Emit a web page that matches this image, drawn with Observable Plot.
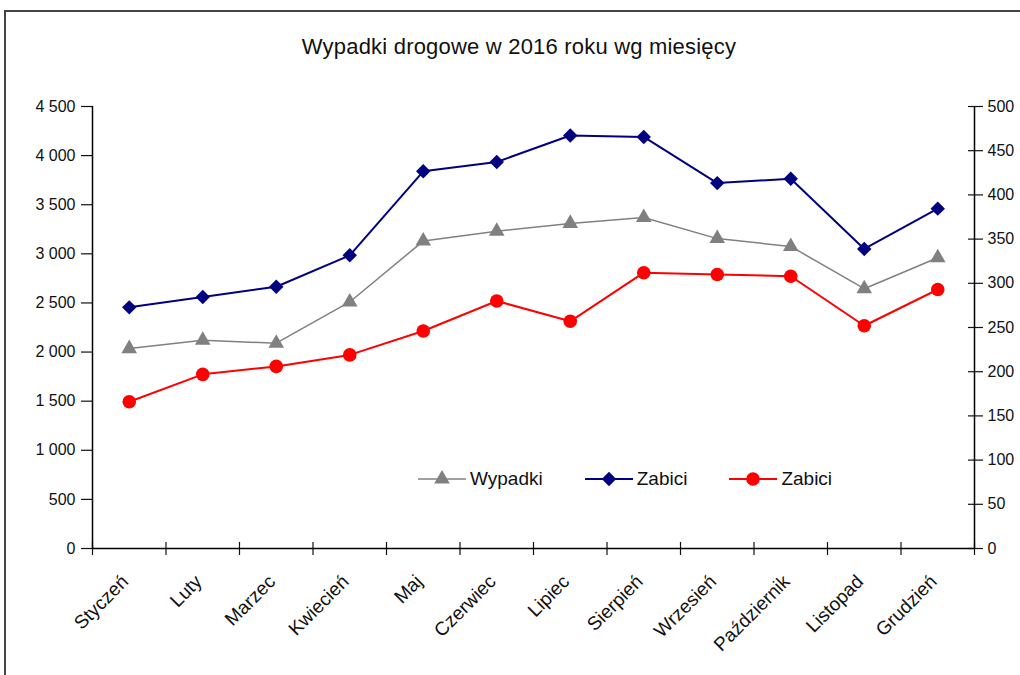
<!DOCTYPE html>
<html><head><meta charset="utf-8">
<script src="https://cdn.jsdelivr.net/npm/d3@7"></script>
<script src="https://cdn.jsdelivr.net/npm/@observablehq/plot@0.6"></script>
<style>
body{margin:0;background:#fff;overflow:hidden}
#wrap{position:relative;width:1020px;height:675px;font-family:"Liberation Sans",Arial,sans-serif;color:#111;overflow:hidden}
#border{position:absolute;left:4px;top:10px;width:1060px;height:720px;border:2px solid #444;box-sizing:border-box}
#title{position:absolute;left:0;width:1038px;top:34px;text-align:center;font-size:22px;letter-spacing:0.2px;line-height:26px}
#chart{position:absolute;left:0;top:0}
#legend{position:absolute;top:468px;left:418px;display:flex;align-items:center;font-size:19px;gap:42px}
.item{display:flex;align-items:center;gap:4px}
</style></head>
<body>
<div id="wrap">
  <div id="border"></div>
  <div id="chart"></div>
  <div id="title">Wypadki drogowe w 2016 roku wg miesięcy</div>
  <div id="legend"></div>
</div>
<script>
const months = ["Styczeń","Luty","Marzec","Kwiecień","Maj","Czerwiec","Lipiec","Sierpień","Wrzesień","Październik","Listopad","Grudzień"];
const wypadki = [2035, 2120, 2090, 2510, 3130, 3230, 3310, 3370, 3155, 3075, 2645, 2960];
const zabiciLeft = [2455, 2560, 2665, 2985, 3840, 3935, 4205, 4190, 3720, 3765, 3050, 3460];
const zabiciRight = [166, 197, 206, 219, 246, 280, 257, 312, 310, 308, 252, 293];
const leftTicks = [0, 500, 1000, 1500, 2000, 2500, 3000, 3500, 4000, 4500];
const rightTicks = [0, 50, 100, 150, 200, 250, 300, 350, 400, 450, 500];
const seriesNames = ["Wypadki", "Zabici", "Zabici"];

const K = 4500 / 500; // right-axis to left-axis factor
const fmt = d => d3.format(",")(d).replace(/,/g, " ");
const idx = months.map((_, i) => i);
const bounds = d3.range(months.length + 1).map(i => i - 0.5);

const series = [
  {name: seriesNames[0], values: wypadki, color: "#808080", symbol: "triangle", r: 5.8, sw: 1.5, k: 1},
  {name: seriesNames[1], values: zabiciLeft, color: "#000080", symbol: "diamond2", r: 6.5, sw: 2, k: 1},
  {name: seriesNames[2], values: zabiciRight, color: "#ff0000", symbol: "circle", r: 6.8, sw: 2, k: K}
];

const chart = Plot.plot({
  width: 1020, height: 675,
  marginLeft: 92, marginRight: 46, marginTop: 106, marginBottom: 127,
  x: {type: "linear", domain: [-0.5, 11.5]},
  y: {domain: [0, 4500]},
  style: {fontFamily: '"Liberation Sans", Arial, sans-serif', fontSize: "16px", color: "#111", background: "transparent"},
  marks: [
    Plot.axisY(leftTicks, {anchor: "left", tickSize: 11, tickPadding: 6, tickFormat: fmt, label: null, fontSize: 16, strokeWidth: 1.2}),
    Plot.axisY(rightTicks.map(v => v * K), {anchor: "right", tickSize: 15, dx: -7, tickPadding: 5, tickFormat: d => fmt(d / K), label: null, fontSize: 16, strokeWidth: 1.2}),
    Plot.axisX(bounds, {tickSize: 13, dy: -6, tickFormat: () => "", label: null, strokeWidth: 1.2}),
    Plot.axisX(idx, {tickSize: 0, tickRotate: -45, tickPadding: 30, dx: -4, tickFormat: i => months[i], label: null, fontSize: 19}),
    Plot.ruleY([0], {stroke: "#000", strokeWidth: 1.5}),
    Plot.ruleX([-0.5, 11.5], {stroke: "#000", strokeWidth: 1.5}),
    ...series.flatMap(s => [
      Plot.line(s.values, {x: (d, i) => i, y: d => d * s.k, stroke: s.color, strokeWidth: s.sw}),
      Plot.dot(s.values, {x: (d, i) => i, y: d => d * s.k, symbol: s.symbol, fill: s.color, stroke: "none", r: s.r})
    ])
  ]
});
document.getElementById("chart").appendChild(chart);

// legend
const legend = d3.select("#legend");
const symMap = {triangle: d3.symbolTriangle, diamond2: d3.symbolDiamond2, circle: d3.symbolCircle};
series.forEach(s => {
  const it = legend.append("div").attr("class", "item");
  const svg = it.append("svg").attr("width", 48).attr("height", 20);
  svg.append("line").attr("x1", 0).attr("x2", 48).attr("y1", 10).attr("y2", 10).attr("stroke", s.color).attr("stroke-width", s.sw);
  svg.append("path").attr("transform", "translate(24,10)")
    .attr("d", d3.symbol(symMap[s.symbol], Math.PI * s.r * s.r)()).attr("fill", s.color);
  it.append("span").text(s.name);
});
</script>
</body></html>
